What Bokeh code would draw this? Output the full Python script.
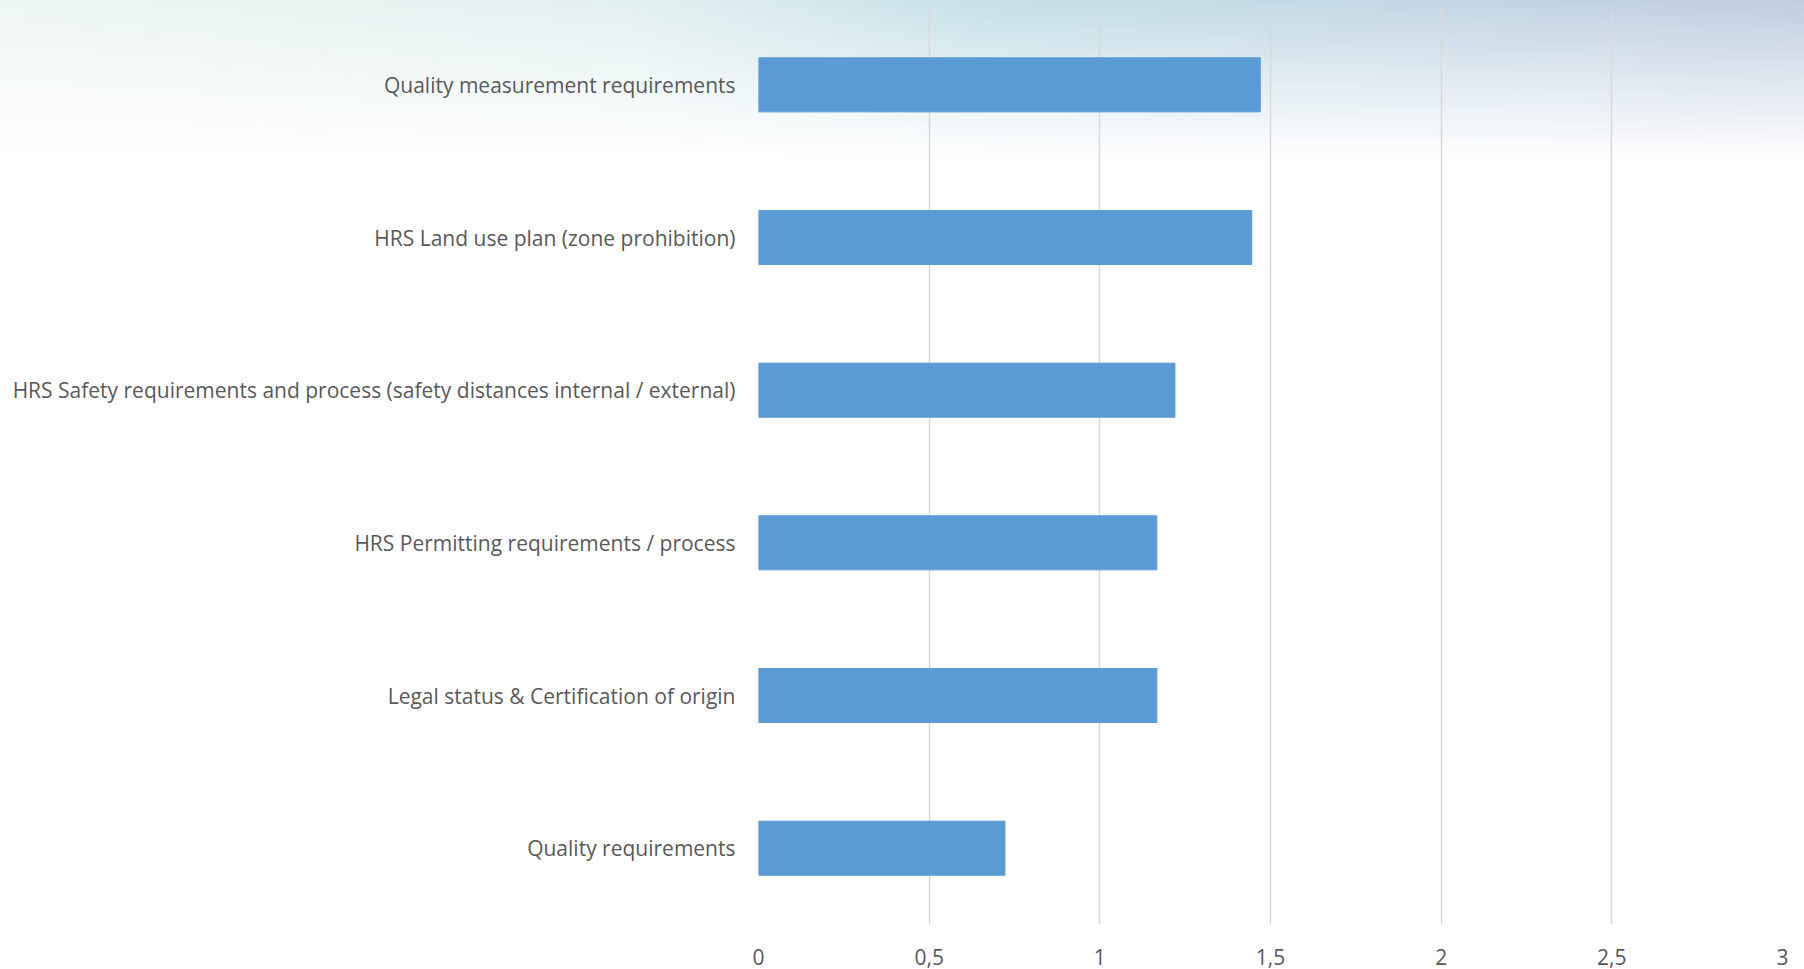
from bokeh.plotting import figure
from bokeh.models import FixedTicker
from bokeh.embed import file_html
from bokeh.resources import INLINE

categories = [
    "Quality measurement requirements",
    "HRS Land use plan (zone prohibition)",
    "HRS Safety requirements and process (safety distances internal / external)",
    "HRS Permitting requirements / process",
    "Legal status & Certification of origin",
    "Quality requirements",
]
values = [1.47, 1.445, 1.22, 1.167, 1.167, 0.722]
tick_values = [0, 0.5, 1, 1.5, 2, 2.5, 3]
tick_labels = ["0", "0,5", "1", "1,5", "2", "2,5", "3"]

p = figure(
    width=1804, height=969,
    y_range=list(reversed(categories)),
    x_range=(0, 3),
    output_backend="svg", toolbar_location=None,
    min_border_left=758, min_border_right=22, min_border_top=8, min_border_bottom=45,
)
p.styles = {
    "background": "linear-gradient(to bottom, rgba(255,255,255,0) 0px, rgba(255,255,255,0.5) 80px, rgba(255,255,255,1) 160px), "
                  "linear-gradient(to right, #eef6f3 0%, #e3f0f0 35%, #c4e0e8 55%, #c2d6e4 80%, #bfcde0 100%)"
}
p.background_fill_alpha = 0
p.border_fill_alpha = 0
p.outline_line_color = None

p.hbar(y=categories, right=values, left=0, height=0.354, color="#5b9bd5", line_color="#5b9bd5")

p.xaxis.ticker = FixedTicker(ticks=tick_values)
p.xaxis.major_label_overrides = {v: l for v, l in zip(tick_values, tick_labels)}
for ax in (p.xaxis, p.yaxis):
    ax.axis_line_color = None
    ax.major_tick_line_color = None
    ax.minor_tick_line_color = None
    ax.major_label_text_font = "Open Sans"
    ax.major_label_text_font_size = "21px"
    ax.major_label_text_color = "#595959"
p.xaxis.major_label_standoff = 18
p.yaxis.major_label_standoff = 17
p.ygrid.grid_line_color = None
p.xgrid.grid_line_color = "#d9d9d9"
p.xgrid.grid_line_width = 1.5

open("out.html", "w").write(file_html(p, INLINE))
